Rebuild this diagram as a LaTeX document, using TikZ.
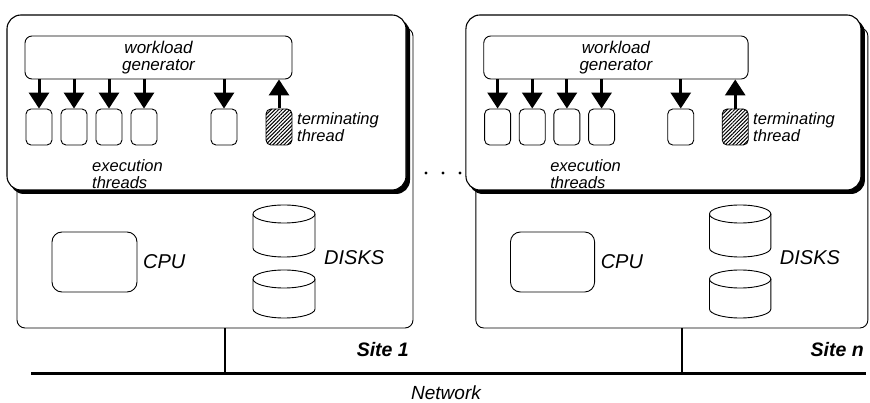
\documentclass[tikz,border=0pt]{standalone}
\usepackage{fontspec}
\setmainfont{Liberation Sans}
\usetikzlibrary{arrows.meta,patterns.meta}

\tikzset{
  thin line/.style={line width=0.9pt},
  sitebox/.style={draw, thin line, rounded corners=8pt, fill=white},
  upbox/.style={draw, line width=1.1pt, rounded corners=14pt, fill=white},
  wgbox/.style={draw, thin line, rounded corners=7pt, align=center,
    font=\fontsize{17}{17}\selectfont\itshape, inner sep=0pt},
  thr/.style={draw, thin line, rounded corners=5pt, minimum width=26pt, minimum height=36pt, inner sep=0pt},
  hatched/.style={thr, pattern={Lines[angle=45,distance=2.6pt,line width=1pt]}},
  flowarrow/.style={line width=3pt, -{Triangle[width=20pt,length=16pt]}},
  lbl/.style={font=\fontsize{16.5}{17}\selectfont\itshape, align=left, inner sep=0pt},
  biglbl/.style={font=\fontsize{20}{22}\selectfont\itshape, inner sep=0pt},
  sitelbl/.style={font=\fontsize{19.5}{22}\selectfont\bfseries\itshape, inner sep=0pt},
  cpubox/.style={draw, thin line, rounded corners=10pt, minimum height=60pt, inner sep=0pt},
  netlbl/.style={font=\fontsize{19}{22}\selectfont\itshape, inner sep=0pt},
}

% #1 shift, #2 name suffix, #3 label, #4 horizontal scale
\newcommand\drawsite[4]{%
\begin{scope}[xshift=#1, xscale=#4]
  % site box (lower, extends behind the upper box)
  \node[sitebox, minimum width={396pt*#4}, minimum height=300pt, inner sep=0pt] (site#2) at (215,178) {};
  % shadow of upper box
  \fill[rounded corners=14pt] (10,19) rectangle (410,194);
  % upper box
  \node[upbox, minimum width={399pt*#4}, minimum height=175pt, inner sep=0pt] (up#2) at (206.5,102.5) {};
  % workload generator
  \node[wgbox, minimum width={267pt*#4}, minimum height=43pt] (wg#2) at (158.5,57.5) {workload\\generator};
  % threads
  \node[thr] (ta#2) at (39,127) {};
  \node[thr] (tb#2) at (74,127) {};
  \node[thr] (tc#2) at (109,127) {};
  \node[thr] (td#2) at (144,127) {};
  \node[thr] (te#2) at (224,127) {};
  \node[hatched] (tf#2) at (279,127) {};
  \foreach \t in {ta,tb,tc,td,te}{
    \draw[flowarrow] (wg#2.south -| \t#2) -- (\t#2.north);
  }
  \draw[flowarrow] (tf#2.north) -- (wg#2.south -| tf#2);
  \node[lbl, anchor=west] (term#2) at (297,127) {terminating\\thread};
  \node[lbl, anchor=west] (exec#2) at (92,174) {execution\\threads};
  % CPU
  \node[cpubox, minimum width={85pt*#4}] (cpu#2) at (94.5,262) {};
  \node[biglbl, anchor=west] (cpul#2) at (143,262) {CPU};
  % disks
  \draw[thin line, fill=white] (253,214) -- (253,248) arc[start angle=180, end angle=0, x radius=31, y radius=9] -- (315,214);
  \draw[thin line] (284,214) ellipse[x radius=31, y radius=9];
  \draw[thin line, fill=white] (253,279) -- (253,309) arc[start angle=180, end angle=0, x radius=31, y radius=9] -- (315,279);
  \draw[thin line] (284,279) ellipse[x radius=31, y radius=9];
  \node[biglbl, anchor=west] (disks#2) at (324,258) {DISKS};
  % site label
  \node[sitelbl, anchor=base east] (sitel#2) at (409,356) {#3};
  % tap to network
  \coordinate (tap#2) at (225,373);
  \draw[line width=2pt] (site#2.south -| tap#2) -- (tap#2);
\end{scope}}

\begin{document}
\begin{tikzpicture}[x=1pt, y=-1pt]
  \useasboundingbox (0,0) rectangle (870,403);
  \drawsite{0pt}{1}{Site 1}{1}
  \drawsite{459pt}{n}{Site n}{0.99}
  % dots between sites
  \fill (426,173) circle[radius=1.6];
  \fill (443,173) circle[radius=1.6];
  \fill (460,173) circle[radius=1.6];
  % network
  \coordinate (netw) at (31,373);
  \coordinate (nete) at (866,373);
  \draw[line width=3pt] (netw) -- (nete);
  \node[netlbl, anchor=base] (netl) at (446,399) {Network};
\end{tikzpicture}
\end{document}
